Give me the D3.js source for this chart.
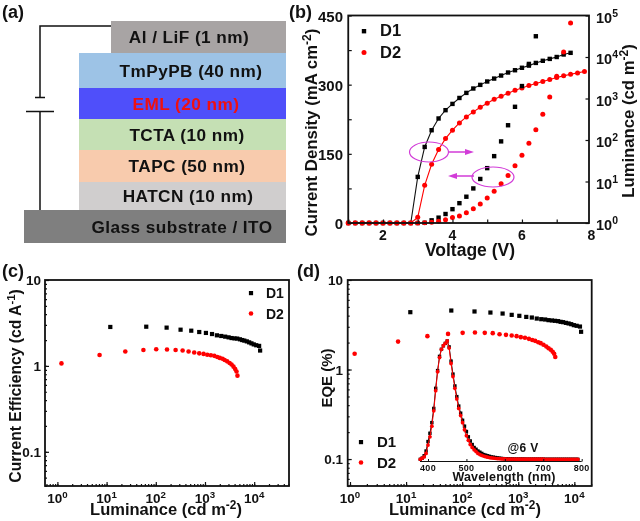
<!DOCTYPE html>
<html><head><meta charset="utf-8">
<script src="https://cdn.jsdelivr.net/npm/d3@7"></script>
<style>
html,body{margin:0;padding:0;background:#fff}
svg{display:block;filter:blur(0.35px)}
text{font-family:"Liberation Sans",Arial,sans-serif;font-weight:bold;fill:#111}
</style></head><body>
<svg id="c" width="640" height="521"></svg>
<script>
// ---------- data ----------
const layerNames = ["Al / LiF (1 nm)","TmPyPB (40 nm)","EML (20 nm)","TCTA (10 nm)","TAPC (50 nm)","HATCN (10 nm)","Glass substrate / ITO"];
const layerFills = ["#a8a4a4","#9dc3e6","#4f4ffa","#c5e0b4","#f8cbad","#d0cece","#7f7f7f"];
const layerText = ["#111","#111","#f01010","#111","#111","#111","#111"];

const volts = [1.0,1.2,1.4,1.6,1.8,2.0,2.2,2.4,2.6,2.8,3.0,3.2,3.4,3.6,3.8,4.0,4.2,4.4,4.6,4.8,5.0,5.2,5.4,5.6,5.8,6.0,6.2,6.4,6.6,6.8,7.0,7.2,7.4,7.6,7.8];
const lumD1 = [1,1,1,1,1,1,1,1,1,1,12.9,68,172,330,523,741,1030,1365,1740,2130,2570,3020,3570,4230,4800,5500,6200,7200,8100,9000,10000,11500,12600];
const lumD2 = [1,1,1,1,1,1,1,1,1,1,1.37,8.1,26,59,108,172,258,360,476,617,769,960,1135,1340,1585,1800,2050,2290,2570,2860,3200,3510,3850,4140,4470];
const jD1 = [0,0,0,0,0,0,0,0,0,0,0,0.5,5.8,11.6,19.5,30,43,57,75,95.5,119,145,177,212,252,297,345,405];
const jD2 = [0,0,0,0,0,0,0,0,0,0,0,0.3,1.5,3.6,7,12,15,22,31,41,54,69,85,103,124,147,173,202,236,273.5,318,371,434];

const ceLumD1 = [11.9,64,166,319,526,764,1045,1390,1746,2138,2570,3020,3467,3981,4520,5130,5700,6300,7080,7900,8800,9800,11000,12600,13200];
const ceD1 = [2.84,2.86,2.79,2.64,2.57,2.48,2.42,2.35,2.27,2.23,2.19,2.15,2.11,2.09,2.08,2.04,2.0,1.97,1.93,1.88,1.83,1.78,1.74,1.71,1.51];
const ceLumD2 = [1.21,7.2,24,56,102,169,253,351,464,604,764,935,1112,1318,1549,1778,2000,2275,2512,2818,3162,3467,3800,4110,4370,4570];
const ceD2 = [1.07,1.34,1.47,1.53,1.56,1.55,1.53,1.51,1.47,1.43,1.40,1.38,1.35,1.33,1.31,1.27,1.24,1.21,1.17,1.13,1.08,1.04,0.98,0.92,0.86,0.77];
const eqeD1 = [4.37,4.56,4.45,4.33,4.22,4.08,3.98,3.87,3.81,3.71,3.65,3.62,3.56,3.53,3.50,3.47,3.41,3.38,3.32,3.27,3.21,3.13,3.08,3.02,2.64];
const eqeD2 = [1.5,2.05,2.36,2.50,2.57,2.59,2.57,2.55,2.48,2.44,2.40,2.36,2.30,2.26,2.20,2.14,2.09,2.02,1.97,1.89,1.81,1.73,1.66,1.58,1.50,1.38];

const specNm = [380,385,390,395,400,405,410,415,420,425,430,435,440,445,450,455,460,465,470,475,480,485,490,495,500,505,510,515,520,525,530,535,540,545,550,555,560,565,570,575,580,585,590,595,600,605,610,615,620,625,630,635,640,645,650,655,660,665,670,675,680,685,690,695,700,705,710,715,720,725,730,735,740,745,750,755,760,765,770,775,780,785,790];
const specD1 = [0,0.01,0.03,0.07,0.15,0.22,0.31,0.43,0.60,0.75,0.87,0.93,0.96,0.98,1.0,0.95,0.83,0.72,0.62,0.53,0.45,0.39,0.33,0.28,0.235,0.19,0.155,0.125,0.10,0.085,0.07,0.06,0.05,0.04,0.035,0.03,0.025,0.02,0.018,0.015,0.012,0.01,0.008,0.006,0.004,0.004,0.003,0.003,0.003,0.002,0.002,0.002,0.002,0.002,0.002,0.001,0.001,0.001,0.001,0.001,0.001,0.001,0.001,0.001,0.001,0,0,0,0,0,0,0,0,0,0,0,0,0,0,0,0,0,0];
const specD2 = [0,0.01,0.02,0.05,0.12,0.19,0.28,0.41,0.58,0.74,0.86,0.93,0.96,0.98,1.0,0.94,0.81,0.70,0.60,0.51,0.43,0.37,0.31,0.25,0.20,0.16,0.125,0.10,0.08,0.065,0.05,0.04,0.033,0.027,0.022,0.018,0.015,0.012,0.01,0.008,0.006,0.005,0.004,0.003,0.003,0.002,0.002,0.002,0.002,0.002,0.001,0.001,0.001,0.001,0.001,0.001,0.001,0.001,0.001,0.001,0.001,0.001,0.001,0.001,0.001,0,0,0,0,0,0,0,0,0,0,0,0,0,0,0,0,0,0];

const d1Color = "#000", d2Color = "#ff0000", magenta = "#d23cd8";
const xTicksB = [2,4,6,8], jTicks = [0,150,300,450], lumTicks = [1,10,100,1000,10000,100000];
const logTicksX = [1,10,100,1000,10000], effTicks = [10,1,0.1], specTicks = [400,500,600,700,800];

// ---------- helpers ----------
const svg = d3.select("#c");
function txt(x,y,s,size,opts={}){
  const t = svg.append("text").attr("x",x).attr("y",y).attr("font-size",size).attr("text-anchor",opts.anchor||"start");
  if(opts.rot) t.attr("transform",`rotate(${opts.rot} ${x} ${y})`);
  if(opts.fill) t.style("fill",opts.fill);
  if(opts.ls) t.style("letter-spacing",opts.ls+"px");
  let back = 0;
  (Array.isArray(s)?s:[s]).forEach(p=>{
    if(typeof p==="string"){ const sp=t.append("tspan").text(p); if(back){sp.attr("dy",back); back=0;} }
    else { t.append("tspan").attr("dy",-size*0.38).attr("font-size",size*0.72).text(p.sup); back=size*0.38; }
  });
  return t;
}
function squares(x,y,xs,ys,s){
  svg.append("g").selectAll("rect").data(xs).join("rect")
    .attr("x",(d)=>x(d)-s/2).attr("y",(d,i)=>y(ys[i])-s/2).attr("width",s).attr("height",s).attr("fill",d1Color);
}
function dots(x,y,xs,ys,r){
  svg.append("g").selectAll("circle").data(xs).join("circle")
    .attr("cx",(d)=>x(d)).attr("cy",(d,i)=>y(ys[i])).attr("r",r).attr("fill",d2Color);
}
function line(x,y,xs,ys,c,w){
  svg.append("path").attr("fill","none").attr("stroke",c).attr("stroke-width",w)
    .attr("d",d3.line().x(d=>x(d[0])).y(d=>y(d[1]))(xs.map((v,i)=>[v,ys[i]]).filter(d=>d[1]!==undefined)));
}
function frame(x0,x1,y0,y1){
  svg.append("rect").attr("x",x0).attr("y",y0).attr("width",x1-x0).attr("height",y1-y0)
    .attr("fill","none").attr("stroke","#111").attr("stroke-width",1.8);
}
function styleAxis(g,w){ g.selectAll("path").remove(); g.selectAll("line").attr("stroke","#111").attr("stroke-width",w||1.2); g.selectAll("text").remove(); }
function minorLog(scale,lo,hi){ const r=[]; for(let e=lo;e<=hi;e++) for(let m=1;m<10;m++){const v=m*Math.pow(10,e); const d=scale.domain(); if(v>=d[0]&&v<=d[1]) r.push(v);} return r; }
function decade(x,y,v,size){ txt(x,y,["10",{sup:String(Math.round(Math.log10(v)))}],size,{anchor:"middle"}); }

// ---------- (a) ----------
const layerX0 = [111,79,79,79,79,79,24], layerRight = 286;
const layerEdges = [21,53,88,119,150,182,210,243];
const layerTextX = [189,191,186,187,187,188,182];
layerNames.forEach((n,i)=>{
  svg.append("rect").attr("x",layerX0[i]).attr("y",layerEdges[i]).attr("width",layerRight-layerX0[i]).attr("height",layerEdges[i+1]-layerEdges[i]).attr("fill",layerFills[i]);
  txt(layerTextX[i],(layerEdges[i]+layerEdges[i+1])/2+6,n,17.2,{anchor:"middle",fill:layerText[i],ls:0.45});
});
svg.append("path").attr("fill","none").attr("stroke","#111").attr("stroke-width",1.5)
  .attr("d","M111 26H40V97M35 97.5H45M26 111.5H54M40 111V210");

// ---------- (b) ----------
const bX = d3.scaleLinear().domain([1,7.93]).range([348.25,589]);
const bJ = d3.scaleLinear().domain([0,450]).range([223,15.5]);
const bL = d3.scaleLog().domain([1,100000]).range([223,15.5]);
line(bX,bL,volts,lumD1,"#111",1.1);
squares(bX,bL,volts.slice(10,33),lumD1.slice(10),4.4);
line(bX,bL,volts,lumD2,d2Color,1.1);
dots(bX,bL,volts.slice(10),lumD2.slice(10),2.5);
squares(bX,bJ,volts.slice(0,28),jD1,4.4);
dots(bX,bJ,volts.slice(0,33),jD2,2.5);
dots(bX,bL,volts.slice(0,10),lumD2.slice(0,10),2.5);
styleAxis(svg.append("g").attr("transform","translate(0,223)").call(d3.axisBottom(bX).tickValues([1,2,3,4,5,6,7]).tickSizeInner(-3.5).tickSizeOuter(0)));
styleAxis(svg.append("g").attr("transform","translate(348.25,0)").call(d3.axisLeft(bJ).tickValues([0,75,150,225,300,375,450]).tickSizeInner(-3.5).tickSizeOuter(0)));
styleAxis(svg.append("g").attr("transform","translate(589,0)").call(d3.axisRight(bL).tickValues(lumTicks).tickSizeInner(-3.5).tickSizeOuter(0)));
frame(348.25,589,15.5,223);
xTicksB.forEach(v=>txt(v===8?591.5:bX(v),239.5,String(v),14,{anchor:"middle"}));
jTicks.forEach(v=>txt(343,bJ(v)+6,String(v),15,{anchor:"end"}));
lumTicks.forEach(v=>txt(596,bL(v)+7,["10",{sup:String(Math.round(Math.log10(v)))}],14.5));
txt(317,132.5,["Current Density (mA cm",{sup:"-2"},")"],16.8,{anchor:"middle",rot:-90});
txt(634,121,["Luminance (cd m",{sup:"-2"},")"],16.7,{anchor:"middle",rot:-90});
txt(470,256,"Voltage (V)",17.5,{anchor:"middle"});
svg.append("rect").attr("x",361.8).attr("y",29).attr("width",4.4).attr("height",4.4).attr("fill",d1Color);
txt(380,36,"D1",16.5);
svg.append("circle").attr("cx",364).attr("cy",52.5).attr("r",2.5).attr("fill",d2Color);
txt(380,57.5,"D2",16.5);
const annotations = [[429,152,19.5,10],[493,177,21,10]];
annotations.forEach(a=>svg.append("ellipse").attr("cx",a[0]).attr("cy",a[1]).attr("rx",a[2]).attr("ry",a[3]).attr("fill","none").attr("stroke",magenta).attr("stroke-width",1.2));
svg.append("path").attr("fill","none").attr("stroke",magenta).attr("stroke-width",1.3).attr("d","M449 152H467M474 176H455");
svg.append("path").attr("fill",magenta).attr("d","M474 152L465 149V155ZM448 176L457 173V179Z");

// ---------- (c) ----------
const cX = d3.scaleLog().domain([0.56,51000]).range([45,289]);
const cY = d3.scaleLog().domain([0.04,10]).range([486,280]);
squares(cX,cY,ceLumD1,ceD1,4.2);
dots(cX,cY,ceLumD2,ceD2,2.3);
styleAxis(svg.append("g").attr("transform","translate(0,486)").call(d3.axisBottom(cX).tickValues(minorLog(cX,-1,4)).tickSize(-2).tickSizeOuter(0)));
styleAxis(svg.append("g").attr("transform","translate(0,486)").call(d3.axisBottom(cX).tickValues(logTicksX).tickSize(-4).tickSizeOuter(0)));
styleAxis(svg.append("g").attr("transform","translate(45,0)").call(d3.axisLeft(cY).tickValues(minorLog(cY,-2,0)).tickSize(-2).tickSizeOuter(0)));
styleAxis(svg.append("g").attr("transform","translate(45,0)").call(d3.axisLeft(cY).tickValues(effTicks).tickSize(-4).tickSizeOuter(0)));
frame(45,289,280,486);
logTicksX.forEach(v=>decade(cX(v),503,v,13.5));
effTicks.forEach(v=>txt(41,cY(v)+5,String(v),13.5,{anchor:"end"}));
txt(21,386,["Current Efficiency (cd A",{sup:"-1"},")"],15.7,{anchor:"middle",rot:-90});
txt(166,515,["Luminance (cd m",{sup:"-2"},")"],16.5,{anchor:"middle"});
svg.append("rect").attr("x",248.9).attr("y",291).attr("width",4.2).attr("height",4.2).attr("fill",d1Color);
txt(266,298,"D1",14);
svg.append("circle").attr("cx",251).attr("cy",313.5).attr("r",2.3).attr("fill",d2Color);
txt(266,318.5,"D2",14);

// ---------- (d) ----------
const dX = d3.scaleLog().domain([0.91,20400]).range([347.7,591.7]);
const dY = d3.scaleLog().domain([0.05,10]).range([486,280]);
squares(dX,dY,ceLumD1,eqeD1,4.2);
dots(dX,dY,ceLumD2,eqeD2,2.3);
styleAxis(svg.append("g").attr("transform","translate(0,486)").call(d3.axisBottom(dX).tickValues(minorLog(dX,-1,4)).tickSize(-2).tickSizeOuter(0)));
styleAxis(svg.append("g").attr("transform","translate(0,486)").call(d3.axisBottom(dX).tickValues(logTicksX).tickSize(-4).tickSizeOuter(0)));
styleAxis(svg.append("g").attr("transform","translate(347.7,0)").call(d3.axisLeft(dY).tickValues(minorLog(dY,-2,0)).tickSize(-2).tickSizeOuter(0)));
styleAxis(svg.append("g").attr("transform","translate(347.7,0)").call(d3.axisLeft(dY).tickValues(effTicks).tickSize(-4).tickSizeOuter(0)));
frame(347.7,591.7,280,486);
logTicksX.forEach(v=>decade(dX(v),503,v,13.5));
effTicks.forEach(v=>txt(343,dY(v)+5,String(v),13.5,{anchor:"end"}));
txt(332,378,"EQE (%)",15,{anchor:"middle",rot:-90});
txt(465,515,["Luminance (cd m",{sup:"-2"},")"],16.5,{anchor:"middle"});
svg.append("rect").attr("x",358.9).attr("y",440).attr("width",4.2).attr("height",4.2).attr("fill",d1Color);
txt(377,447,"D1",15);
svg.append("circle").attr("cx",361).attr("cy",462.5).attr("r",2.3).attr("fill",d2Color);
txt(377,467.5,"D2",15);

// inset spectrum
const sX = d3.scaleLinear().domain([400,800]).range([428,581.7]);
const sY = d3.scaleLinear().domain([0,1]).range([459.3,341]);
squares(sX,sY,specNm,specD1,3.4);
line(sX,sY,specNm,specD1,"#111",1);
dots(sX,sY,specNm,specD2,1.9);
line(sX,sY,specNm,specD2,d2Color,1);
const insetAxis = svg.append("g").attr("transform","translate(0,461.5)").call(d3.axisBottom(sX).tickValues(specTicks).tickSize(-2.5).tickSizeOuter(0));
insetAxis.selectAll("text").remove();
insetAxis.select("path").attr("stroke","#111").attr("stroke-width",1).attr("d","M420,0H581.7");
insetAxis.selectAll("line").attr("stroke","#111");
specTicks.forEach(v=>txt(sX(v),470.5,String(v),9,{anchor:"middle",ls:0.3}));
txt(504,481,"Wavelength (nm)",12.5,{anchor:"middle",ls:0.2});
txt(523,451.5,"@6 V",12,{anchor:"middle",ls:0.3});

// panel letters
const panelLetters = ["(a)","(b)","(c)","(d)"], letterX = [2,289,2,297], letterY = [18,18,277,277];
panelLetters.forEach((s,i)=>txt(letterX[i],letterY[i],s,18));
</script>
</body></html>
